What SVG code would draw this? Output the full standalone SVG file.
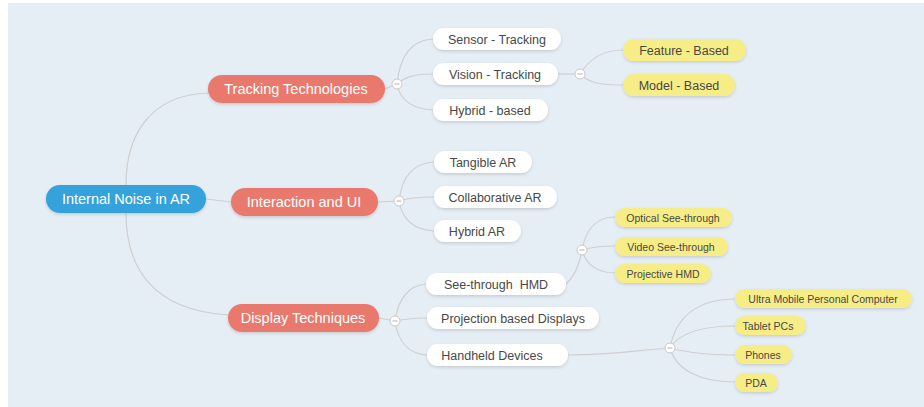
<svg xmlns="http://www.w3.org/2000/svg" width="924" height="407" viewBox="0 0 924 407">
<defs>
<filter id="sh" x="-10%" y="-30%" width="120%" height="170%">
<feDropShadow dx="0" dy="1.5" stdDeviation="1.5" flood-color="#000" flood-opacity="0.15"/>
</filter>
<style>
.bg{fill:#e6eef5}
.c{fill:none;stroke:#cfcfcf;stroke-width:1.2}
.root rect{fill:#36a2dc;filter:url(#sh)}
.main rect{fill:#e9796c;filter:url(#sh)}
.sub rect{fill:#ffffff;filter:url(#sh)}
.leaf rect{fill:#f6ed86;filter:url(#sh)}
text{font-family:"Liberation Sans",Arial,sans-serif;text-anchor:middle}
.root text,.main text{fill:#ffffff;font-size:14.5px}
.sub text{fill:#484848;font-size:12.5px}
.leaf text{fill:#484848;font-size:12.5px}
.sm text{font-size:10.5px}
.tog circle{fill:#ffffff;stroke:#c8c8c8;stroke-width:1}
.tog line{stroke:#b0b0b0;stroke-width:1}
</style>
</defs>
<rect class="bg" x="8" y="3" width="916" height="404"/>

<g id="connectors">
<path class="c" d="M126 185 C126 135 150 95 208 93"/>
<path class="c" d="M126 213 C126 265 150 310 228 315"/>
<path class="c" d="M206 199 L231 202"/>
<path class="c" d="M385 89 L397 84"/>
<path class="c" d="M397 84 C400 55 412 40 433 39"/>
<path class="c" d="M397 84 C405 77 415 74 433 74"/>
<path class="c" d="M397 84 C400 100 412 109 433 110"/>
<path class="c" d="M378 202 L399 201"/>
<path class="c" d="M399 201 C402 175 415 163 434 162"/>
<path class="c" d="M399 201 C408 198 418 197 434 197"/>
<path class="c" d="M399 201 C402 220 415 230 434 231"/>
<path class="c" d="M379 318 L395 321"/>
<path class="c" d="M395 321 C398 298 410 285 426 284"/>
<path class="c" d="M395 321 C405 319 415 318 427 318"/>
<path class="c" d="M395 321 C398 343 410 354 427 355"/>
<path class="c" d="M558 74 L580 74"/>
<path class="c" d="M580 74 C590 58 603 50 623 50"/>
<path class="c" d="M580 74 C590 84 603 85 623 85"/>
<path class="c" d="M566 284 C575 276 580 262 582 250"/>
<path class="c" d="M582 250 C586 228 598 217 615 217"/>
<path class="c" d="M582 250 C592 247 603 246 615 246"/>
<path class="c" d="M582 250 C586 265 598 273 615 273"/>
<path class="c" d="M568 355 C610 355 640 350 670 348"/>
<path class="c" d="M670 348 C676 315 700 299 735 299"/>
<path class="c" d="M670 348 C680 332 705 326 735 326"/>
<path class="c" d="M670 348 C685 352 710 355 735 355"/>
<path class="c" d="M670 348 C676 370 700 382 735 382"/>
</g>

<g id="toggles" class="tog">
<g><circle cx="397" cy="84" r="5"/><line x1="394.5" y1="84" x2="399.5" y2="84"/></g>
<g><circle cx="399" cy="201" r="5"/><line x1="396.5" y1="201" x2="401.5" y2="201"/></g>
<g><circle cx="395" cy="321" r="5"/><line x1="392.5" y1="321" x2="397.5" y2="321"/></g>
<g><circle cx="580" cy="74" r="5"/><line x1="577.5" y1="74" x2="582.5" y2="74"/></g>
<g><circle cx="582" cy="250" r="5"/><line x1="579.5" y1="250" x2="584.5" y2="250"/></g>
<g><circle cx="670" cy="348" r="5"/><line x1="667.5" y1="348" x2="672.5" y2="348"/></g>
</g>

<g id="root" class="root"><rect x="46" y="185" width="160" height="28" rx="14"/><text x="126" y="204">Internal Noise in AR</text></g>

<g id="tracking" class="main"><rect x="208" y="75" width="177" height="28" rx="14"/><text x="296" y="94">Tracking Technologies</text></g>
<g id="interaction" class="main"><rect x="231" y="188" width="147" height="28" rx="14"/><text x="304" y="207">Interaction and UI</text></g>
<g id="display" class="main"><rect x="228" y="304" width="151" height="28" rx="14"/><text x="303" y="323">Display Techniques</text></g>

<g id="sensor" class="sub"><rect x="433" y="28" width="128" height="22" rx="11"/><text x="497" y="43.5">Sensor - Tracking</text></g>
<g id="vision" class="sub"><rect x="433" y="63" width="125" height="22" rx="11"/><text x="495" y="78.5">Vision - Tracking</text></g>
<g id="hybrid-based" class="sub"><rect x="433" y="99" width="115" height="22" rx="11"/><text x="490" y="114.5">Hybrid - based</text></g>

<g id="feature" class="leaf"><rect x="623" y="39" width="123" height="22" rx="11"/><text x="684" y="54.5">Feature - Based</text></g>
<g id="model" class="leaf"><rect x="623" y="74" width="112" height="22" rx="11"/><text x="679" y="89.5">Model - Based</text></g>

<g id="tangible" class="sub"><rect x="434" y="151" width="98" height="22" rx="11"/><text x="483" y="166.5">Tangible AR</text></g>
<g id="collaborative" class="sub"><rect x="434" y="186" width="123" height="22" rx="11"/><text x="495" y="201.5">Collaborative AR</text></g>
<g id="hybrid-ar" class="sub"><rect x="434" y="220" width="87" height="22" rx="11"/><text x="477" y="235.5">Hybrid AR</text></g>

<g id="seethrough" class="sub"><rect x="426" y="273" width="140" height="22" rx="11"/><text x="496" y="288.5">See-through&#160; HMD</text></g>
<g id="projection" class="sub"><rect x="427" y="307" width="172" height="22" rx="11"/><text x="513" y="322.5">Projection based Displays</text></g>
<g id="handheld" class="sub"><rect x="427" y="344" width="141" height="22" rx="11"/><text x="492" y="359.5">Handheld Devices</text></g>

<g id="optical" class="leaf sm"><rect x="615" y="208" width="117" height="19" rx="9.5"/><text x="673" y="221.5">Optical See-through</text></g>
<g id="video" class="leaf sm"><rect x="615" y="237" width="113" height="19" rx="9.5"/><text x="671" y="250.5">Video See-through</text></g>
<g id="projective" class="leaf sm"><rect x="615" y="264" width="96" height="19" rx="9.5"/><text x="663" y="277.5">Projective HMD</text></g>

<g id="umpc" class="leaf sm"><rect x="735" y="289" width="177" height="19" rx="9.5"/><text x="823" y="302.5">Ultra Mobile Personal Computer</text></g>
<g id="tablet" class="leaf sm"><rect x="735" y="316" width="71" height="19" rx="9.5"/><text x="768" y="329.5">Tablet PCs</text></g>
<g id="phones" class="leaf sm"><rect x="735" y="345" width="57" height="19" rx="9.5"/><text x="763" y="358.5">Phones</text></g>
<g id="pda" class="leaf sm"><rect x="735" y="373" width="43" height="19" rx="9.5"/><text x="756" y="386.5">PDA</text></g>
</svg>
